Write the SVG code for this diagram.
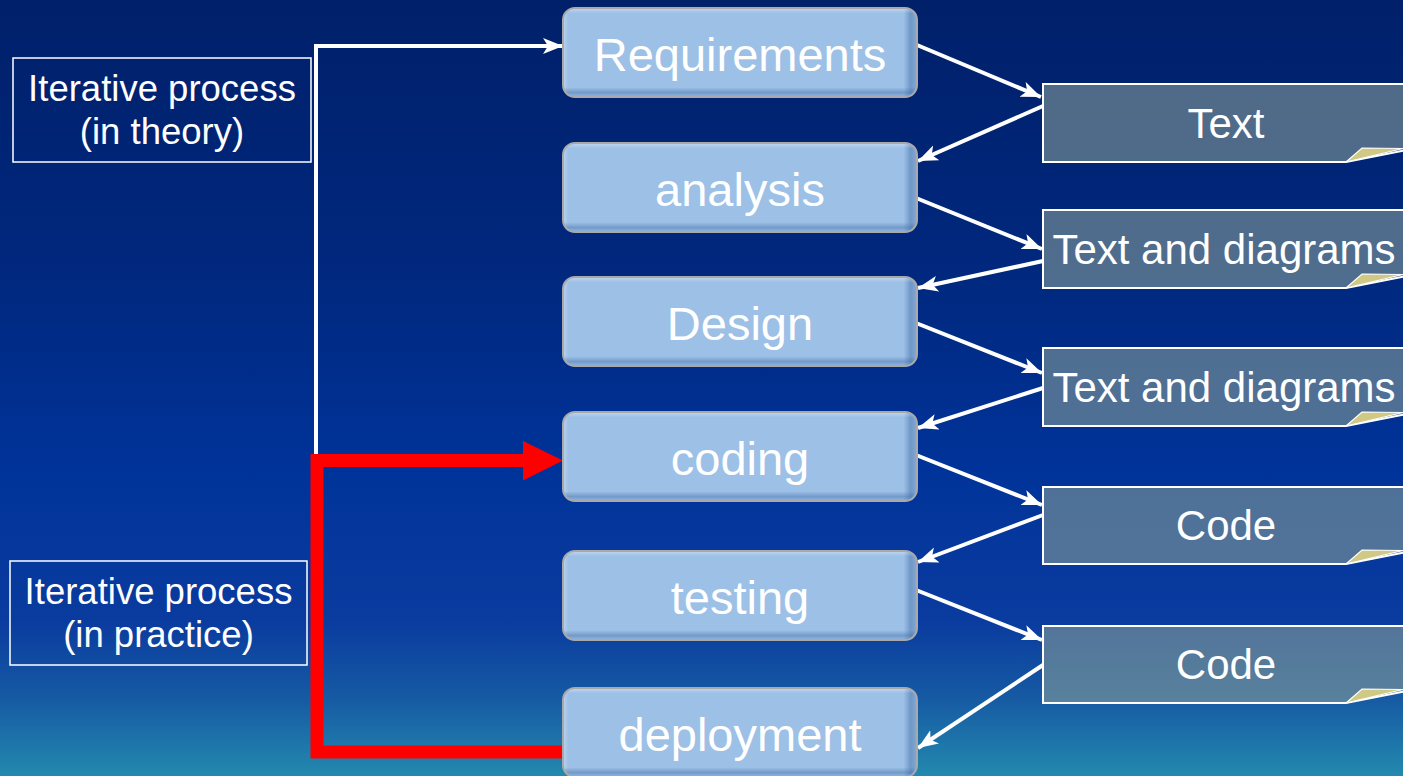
<svg xmlns="http://www.w3.org/2000/svg" width="1403" height="776" viewBox="0 0 1403 776">
  <defs>
    <linearGradient id="bg" x1="0" y1="0" x2="0" y2="1">
      <stop offset="0" stop-color="#00206a"/>
      <stop offset="0.35" stop-color="#00287e"/>
      <stop offset="0.6" stop-color="#003399"/>
      <stop offset="0.8" stop-color="#0a3b9f"/>
      <stop offset="0.9" stop-color="#165aa3"/>
      <stop offset="1" stop-color="#2389ae"/>
    </linearGradient>
    <!-- bevel shading for the phase boxes -->
    <linearGradient id="shadeX" x1="0" y1="0" x2="1" y2="0">
      <stop offset="0" stop-color="#ffffff" stop-opacity="0.25"/>
      <stop offset="0.012" stop-color="#ffffff" stop-opacity="0"/>
      <stop offset="0.965" stop-color="#3f6ea8" stop-opacity="0"/>
      <stop offset="0.985" stop-color="#3f6ea8" stop-opacity="0.5"/>
      <stop offset="1" stop-color="#3f6ea8" stop-opacity="0.3"/>
    </linearGradient>
    <linearGradient id="shadeY" x1="0" y1="0" x2="0" y2="1">
      <stop offset="0" stop-color="#ffffff" stop-opacity="0.3"/>
      <stop offset="0.05" stop-color="#ffffff" stop-opacity="0"/>
      <stop offset="0.9" stop-color="#3f6ea8" stop-opacity="0"/>
      <stop offset="0.96" stop-color="#3f6ea8" stop-opacity="0.45"/>
      <stop offset="1" stop-color="#3f6ea8" stop-opacity="0.2"/>
    </linearGradient>
    <marker id="head" markerUnits="userSpaceOnUse" markerWidth="22" markerHeight="18" refX="20" refY="8" orient="auto">
      <path d="M0,0 L20,8 L0,16 L5,8 Z" fill="#ffffff"/>
    </marker>
    <style>
      .phase rect.base { fill: #9dc0e6; stroke: #a9a9a9; stroke-width: 2; }
      .phase rect.sx { fill: url(#shadeX); }
      .phase rect.sy { fill: url(#shadeY); }
      .phase text { font-family: "Liberation Sans", Arial, sans-serif; font-size: 47px; fill: #ffffff; text-anchor: middle; }
      .doc path.body { fill: #849b98; fill-opacity: 0.6; stroke: #ffffff; stroke-width: 2; }
      .doc path.fold { fill: #cfc985; stroke: #ffffff; stroke-width: 1.2; }
      .doc text { font-family: "Liberation Sans", Arial, sans-serif; font-size: 42px; fill: #ffffff; text-anchor: middle; }
      .note rect { fill: none; stroke: #ffffff; stroke-width: 1.5; }
      .note text { font-family: "Liberation Sans", Arial, sans-serif; font-size: 36.5px; fill: #ffffff; text-anchor: middle; }
      .flow { fill: none; stroke: #ffffff; stroke-width: 4; marker-end: url(#head); }
      .red { fill: none; stroke: #ff0000; stroke-width: 13; stroke-linejoin: miter; }
    </style>
  </defs>

  <rect x="0" y="0" width="1403" height="776" fill="url(#bg)"/>

  <!-- labels on the left -->
  <g id="note-theory" class="note">
    <rect x="13" y="58" width="298" height="104"/>
    <text x="162" y="101">Iterative process</text>
    <text x="162" y="144">(in theory)</text>
  </g>
  <g id="note-practice" class="note">
    <rect x="10" y="561" width="297" height="104"/>
    <text x="158.5" y="604">Iterative process</text>
    <text x="158.5" y="647">(in practice)</text>
  </g>

  <!-- connectors -->
  <g id="connectors">
    <path class="flow" d="M316,455 V46 H563"/>
    <path class="red" d="M563,752 H317 V460.5 H524"/>
    <polygon points="523,441 563,460.5 523,480.5" fill="#ff0000"/>

    <path class="flow" d="M917,45 L1041,97"/>
    <path class="flow" d="M1043,106 L918,161"/>
    <path class="flow" d="M916,198 L1042,249"/>
    <path class="flow" d="M1043,261 L918,288"/>
    <path class="flow" d="M916,323 L1042,373"/>
    <path class="flow" d="M1043,388 L918,428"/>
    <path class="flow" d="M916,455 L1042,505"/>
    <path class="flow" d="M1043,515 L918,562"/>
    <path class="flow" d="M916,590 L1042,640"/>
    <path class="flow" d="M1043,665 L918,748"/>
  </g>

  <!-- phases -->
  <g id="requirements" class="phase">
    <rect class="base" x="563" y="8" width="354" height="89" rx="12"/>
    <rect class="sx" x="564" y="9" width="352" height="87" rx="11"/>
    <rect class="sy" x="564" y="9" width="352" height="87" rx="11"/>
    <text x="740" y="71">Requirements</text>
  </g>
  <g id="analysis" class="phase">
    <rect class="base" x="563" y="143" width="354" height="89" rx="12"/>
    <rect class="sx" x="564" y="144" width="352" height="87" rx="11"/>
    <rect class="sy" x="564" y="144" width="352" height="87" rx="11"/>
    <text x="740" y="205.5">analysis</text>
  </g>
  <g id="design" class="phase">
    <rect class="base" x="563" y="277" width="354" height="89" rx="12"/>
    <rect class="sx" x="564" y="278" width="352" height="87" rx="11"/>
    <rect class="sy" x="564" y="278" width="352" height="87" rx="11"/>
    <text x="740" y="339.5">Design</text>
  </g>
  <g id="coding" class="phase">
    <rect class="base" x="563" y="412" width="354" height="89" rx="12"/>
    <rect class="sx" x="564" y="413" width="352" height="87" rx="11"/>
    <rect class="sy" x="564" y="413" width="352" height="87" rx="11"/>
    <text x="740" y="474.5">coding</text>
  </g>
  <g id="testing" class="phase">
    <rect class="base" x="563" y="551" width="354" height="89" rx="12"/>
    <rect class="sx" x="564" y="552" width="352" height="87" rx="11"/>
    <rect class="sy" x="564" y="552" width="352" height="87" rx="11"/>
    <text x="740" y="613.5">testing</text>
  </g>
  <g id="deployment" class="phase">
    <rect class="base" x="563" y="688" width="354" height="89" rx="12"/>
    <rect class="sx" x="564" y="689" width="352" height="87" rx="11"/>
    <rect class="sy" x="564" y="689" width="352" height="87" rx="11"/>
    <text x="740" y="750.5">deployment</text>
  </g>

  <!-- work products (folded-corner notes) -->
  <g id="doc-text" class="doc">
    <path class="body" d="M1043,84 H1412 V149 L1346,162 H1043 Z"/>
    <path class="fold" d="M1346,162 L1362,148 L1403,148.5 Z"/>
    <text x="1226" y="137.5">Text</text>
  </g>
  <g id="doc-analysis" class="doc">
    <path class="body" d="M1043,210 H1412 V275 L1346,288 H1043 Z"/>
    <path class="fold" d="M1346,288 L1362,274 L1403,274.5 Z"/>
    <text x="1224" y="263.5">Text and diagrams</text>
  </g>
  <g id="doc-design" class="doc">
    <path class="body" d="M1043,348 H1412 V413 L1346,426 H1043 Z"/>
    <path class="fold" d="M1346,426 L1362,412 L1403,412.5 Z"/>
    <text x="1224" y="401.5">Text and diagrams</text>
  </g>
  <g id="doc-code" class="doc">
    <path class="body" d="M1043,487 H1412 V551 L1346,564 H1043 Z"/>
    <path class="fold" d="M1346,564 L1362,550 L1403,550.5 Z"/>
    <text x="1226" y="540">Code</text>
  </g>
  <g id="doc-tested-code" class="doc">
    <path class="body" d="M1043,626 H1412 V690 L1346,703 H1043 Z"/>
    <path class="fold" d="M1346,703 L1362,689 L1403,689.5 Z"/>
    <text x="1226" y="679">Code</text>
  </g>
</svg>
